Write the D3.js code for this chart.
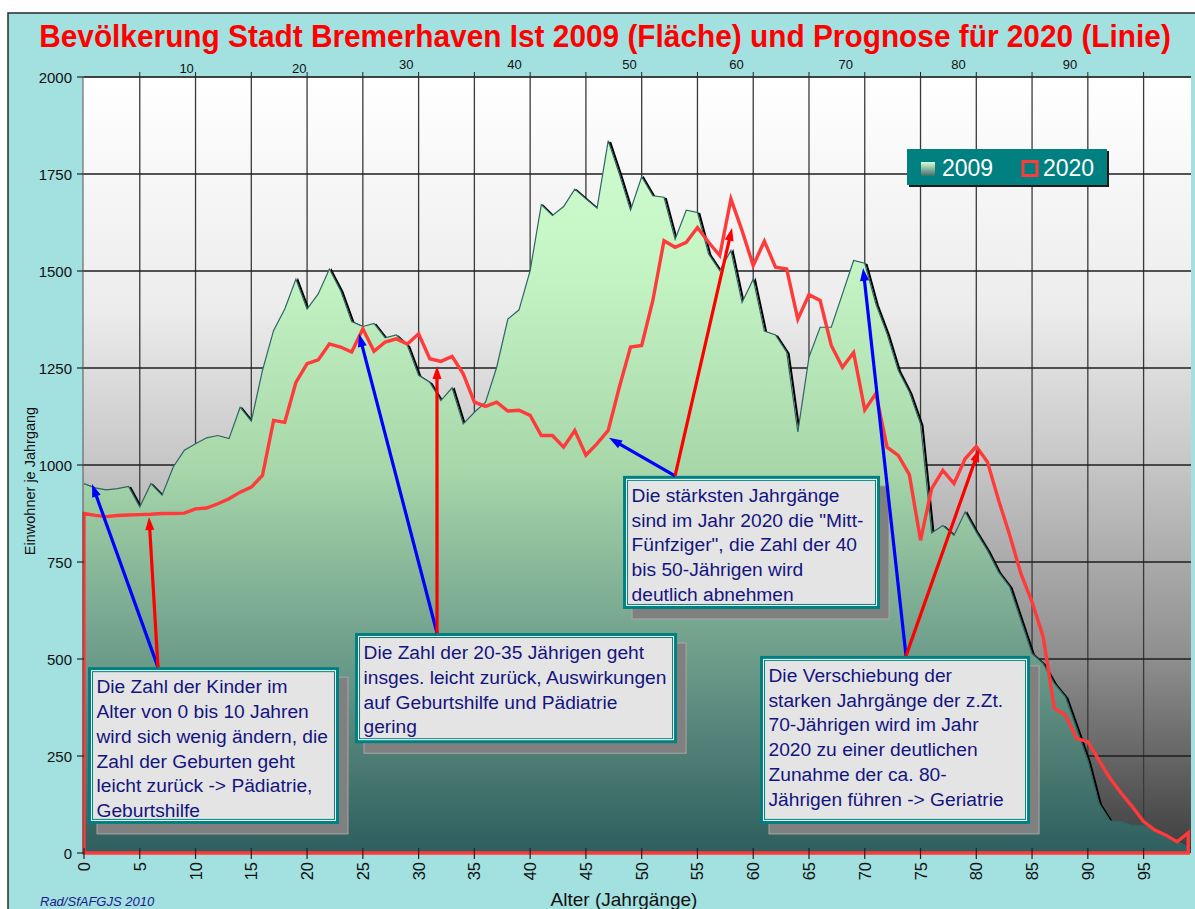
<!DOCTYPE html>
<html><head><meta charset="utf-8">
<script src="https://cdn.jsdelivr.net/npm/d3@7"></script>
<style>html,body{margin:0;padding:0;background:#fff;}svg{display:block;}</style>
</head><body>
<svg id="chart" width="1195" height="909"></svg>
<script>
// ---------- DATA ----------
const ages = d3.range(0, 100);
const pop2009 = [952,941,936,939,945,892,952,922,995,1038,
 1055,1070,1076,1068,1149,1113,1244,1347,1402,1479,
 1402,1441,1505,1450,1370,1357,1365,1328,1335,1308,
 1231,1213,1166,1199,1106,1136,1162,1252,1376,1400,
 1501,1671,1643,1666,1711,1686,1662,1836,1750,1657,
 1743,1694,1690,1582,1657,1651,1544,1501,1553,1419,
 1479,1345,1335,1291,1085,1278,1355,1355,1441,1527,
 1520,1415,1338,1244,1188,1106,825,844,819,879,
 827,780,724,686,600,514,488,437,402,321,
 239,128,83,81,72,72,59,46,33,16];
const pop2020 = [875,870,867,870,871,872,873,875,875,876,
 887,889,900,913,930,943,973,1115,1110,1213,
 1261,1271,1312,1304,1291,1351,1293,1317,1325,1312,
 1338,1274,1267,1280,1235,1162,1151,1162,1139,1141,
 1128,1076,1076,1046,1089,1025,1055,1089,1201,1304,
 1308,1424,1578,1561,1574,1612,1574,1540,1686,1604,
 1514,1577,1510,1505,1376,1439,1424,1308,1252,1290,
 1142,1184,1046,1025,975,806,939,986,952,1016,
 1048,1008,909,819,720,647,557,373,355,295,
 287,239,192,154,119,81,59,46,29,52];
const seriesNames = ["2009", "2020"];
const yTicks = [0,250,500,750,1000,1250,1500,1750,2000];
const xTicks = d3.range(0, 100, 5);
const topTickLabels = [10,20,30,40,50,60,70,80,90];
const topTickAges = [9.2,19.3,28.9,38.6,48.9,58.5,68.3,78.4,88.4];
const topTickLift = [0,0,4,4,4,4,4,4,4];
const titleText = "Bevölkerung Stadt Bremerhaven Ist 2009 (Fläche) und Prognose für 2020 (Linie)";
const xTitle = "Alter (Jahrgänge)";
const yTitle = "Einwohner je Jahrgang";
const credit = "Rad/SfAFGJS 2010";

// annotations in data coordinates (age, value)
const notes = [
 {box:[0.36,479,22.86,75], from:[6.63,479], blue:[0.72,951], red:[5.83,866],
  lines:["Die Zahl der Kinder im","Alter von 0 bis 10 Jahren","wird sich wenig ändern, die","Zahl der Geburten geht","leicht zurück -> Pädiatrie,","Geburtshilfe"]},
 {box:[24.3,567,53.17,283], from:[31.65,567], blue:[24.66,1338], red:[31.65,1255],
  lines:["Die Zahl der 20-35 Jährigen geht","insges. leicht zurück, Auswirkungen","auf Geburtshilfe und Pädiatrie","gering"]},
 {box:[48.33,972,71.37,629], from:[52.99,972], blue:[47.07,1070], red:[58.1,1611],
  lines:["Die stärksten Jahrgänge","sind im Jahr 2020 die \"Mitt-","Fünfziger\", die Zahl der 40","bis 50-Jährigen wird","deutlich abnehmen"]},
 {box:[60.61,508,84.82,75], from:[73.7,508], blue:[69.85,1508], red:[80.25,1041],
  lines:["Die Verschiebung der","starken Jahrgänge der z.Zt.","70-Jährigen wird im Jahr","2020 zu einer deutlichen","Zunahme der ca. 80-","Jährigen führen -> Geriatrie"]}
];

// ---------- LAYOUT ----------
const W = 1195, H = 909;
const x = d3.scaleLinear().domain([0, 99.25]).range([84, 1191]);
const y = d3.scaleLinear().domain([0, 2000]).range([853, 77]);
const FONT = "'Liberation Sans', Arial, sans-serif";

const svg = d3.select("#chart");
const defs = svg.append("defs");

const bg = defs.append("linearGradient").attr("id","bgGrad").attr("x1",0).attr("y1",0).attr("x2",0).attr("y2",1);
[[0,"#ffffff"],[0.3,"#ececec"],[0.5,"#c6c6c6"],[0.75,"#8e8e8e"],[1,"#3e3e3e"]].forEach(s=>bg.append("stop").attr("offset",s[0]).attr("stop-color",s[1]));

const ag = defs.append("linearGradient").attr("id","areaGrad").attr("gradientUnits","userSpaceOnUse")
  .attr("x1",0).attr("y1",y(2000)).attr("x2",0).attr("y2",y(0));
[[0,"#d4ffd4"],[0.25,"#c4f4c4"],[0.5,"#a8d8aa"],[0.75,"#6c9c8a"],[1,"#2e5e5e"]].forEach(s=>ag.append("stop").attr("offset",s[0]).attr("stop-color",s[1]));

const lg = defs.append("linearGradient").attr("id","legGrad").attr("x1",0).attr("y1",0).attr("x2",0).attr("y2",1);
[[0,"#d4ffd4"],[1,"#3e6e6e"]].forEach(s=>lg.append("stop").attr("offset",s[0]).attr("stop-color",s[1]));

// outer frame
svg.append("rect").attr("x",0).attr("y",0).attr("width",W).attr("height",H).attr("fill","#ffffff");
svg.append("rect").attr("x",8).attr("y",13).attr("width",W).attr("height",H).attr("fill","#a3e0e0")
  .attr("stroke","#2a2a2a").attr("stroke-width",1.5);

// title (condensed bold via horizontal scale so its box stays inside)
const title = svg.append("text").attr("text-anchor","middle")
  .attr("font-family",FONT).attr("font-weight","bold").attr("font-size",32)
  .attr("fill","#ff0000").text(titleText);
const tw = title.node().getComputedTextLength();
const sx = Math.min(1, 1132 / tw);
title.attr("transform",`translate(605,47) scale(${sx},1)`);

// plot background
svg.append("rect").attr("x",x(0)-1).attr("y",y(2000)).attr("width",x(99.25)-x(0)+1).attr("height",y(0)-y(2000)).attr("fill","url(#bgGrad)");

// gridlines
svg.append("g").selectAll("line").data(xTicks.filter(d=>d>0)).join("line")
  .attr("x1",d=>x(d)).attr("x2",d=>x(d)).attr("y1",y(2000)).attr("y2",y(0))
  .attr("stroke","#3a3a3a").attr("stroke-width",1.3);
svg.append("g").selectAll("line").data(yTicks.filter(d=>d>0)).join("line")
  .attr("x1",x(0)).attr("x2",x(99.25)).attr("y1",d=>y(d)).attr("y2",d=>y(d))
  .attr("stroke","#1e1e1e").attr("stroke-width",1.4);

// area 2009
const data = ages.map((a,i)=>({a, v09:pop2009[i], v20:pop2020[i]}));
const line09 = d3.line().x(d=>x(d.a)).y(d=>y(d.v09));
svg.append("path").datum(data).attr("d",line09).attr("fill","none").attr("stroke","#000")
  .attr("stroke-width",2).attr("transform","translate(2,1.5)");
const area09 = d3.area().x(d=>x(d.a)).y0(y(0)).y1(d=>y(d.v09));
svg.append("path").datum(data).attr("d",area09).attr("fill","url(#areaGrad)");
svg.append("path").datum(data).attr("d",line09).attr("fill","none").attr("stroke","#2f6464").attr("stroke-width",1.2);

// 2020 outline (area without fill)
const area20 = d3.area().x(d=>x(d.a)).y0(y(0)).y1(d=>y(d.v20));
svg.append("path").datum(data).attr("d",area20).attr("fill","none")
  .attr("stroke","#ff3a3a").attr("stroke-width",3.4).attr("stroke-linejoin","miter");

// axes lines
svg.append("line").attr("x1",x(0)-1).attr("x2",x(0)-1).attr("y1",y(2000)).attr("y2",y(0)).attr("stroke","#555").attr("stroke-width",1);

// y axis
const yAxis = svg.append("g");
yAxis.selectAll("line").data(yTicks).join("line").attr("x1",77).attr("x2",x(0)).attr("y1",d=>y(d)).attr("y2",d=>y(d)).attr("stroke","#222").attr("stroke-width",1.2);
yAxis.selectAll("text").data(yTicks).join("text").attr("x",72).attr("y",d=>y(d)+5.5).attr("text-anchor","end")
  .attr("font-family",FONT).attr("font-size",15).attr("fill","#111").text(d=>d);
svg.append("text").attr("transform","translate(35,481) rotate(-90)").attr("text-anchor","middle")
  .attr("font-family",FONT).attr("font-size",14.5).attr("fill","#111").text(yTitle);

// x axis bottom
const xAxis = svg.append("g");
xAxis.selectAll("line").data(xTicks).join("line").attr("x1",d=>x(d)).attr("x2",d=>x(d)).attr("y1",y(0)-5).attr("y2",y(0)+6).attr("stroke","#222").attr("stroke-width",1.2);
xAxis.selectAll("text").data(xTicks).join("text")
  .attr("transform",d=>`translate(${x(d)+6},${y(0)+9}) rotate(-90)`).attr("text-anchor","end")
  .attr("font-family",FONT).attr("font-size",16.5).attr("fill","#111").text(d=>d);
svg.append("text").attr("x",624).attr("y",906).attr("text-anchor","middle")
  .attr("font-family",FONT).attr("font-size",19).attr("fill","#111").text(xTitle);
svg.append("text").attr("x",40).attr("y",906)
  .attr("font-family",FONT).attr("font-size",13).attr("font-style","italic").attr("fill","#1a1a8a").text(credit);

// top axis
const tAxis = svg.append("g");
tAxis.selectAll("line").data(xTicks.filter(d=>d>0)).join("line").attr("x1",d=>x(d)).attr("x2",d=>x(d)).attr("y1",y(2000)-5).attr("y2",y(2000)).attr("stroke","#222");
tAxis.append("line").attr("x1",x(0)).attr("x2",x(99.25)).attr("y1",y(2000)).attr("y2",y(2000)).attr("stroke","#333");
tAxis.selectAll("text").data(topTickLabels).join("text")
  .attr("x",(d,i)=>x(topTickAges[i])).attr("y",(d,i)=>73-topTickLift[i]).attr("text-anchor","middle")
  .attr("font-family",FONT).attr("font-size",13).attr("fill","#111").text(d=>d);

// annotations
function arrow(g, p0, p1, color){
  const [x0,y0]=[x(p0[0]),y(p0[1])],[x1,y1]=[x(p1[0]),y(p1[1])];
  const dx=x1-x0, dy=y1-y0, L=Math.hypot(dx,dy), ux=dx/L, uy=dy/L;
  const hl=13, hw=4.5;
  g.append("line").attr("x1",x0).attr("y1",y0).attr("x2",x1-ux*hl*0.8).attr("y2",y1-uy*hl*0.8)
    .attr("stroke",color).attr("stroke-width",3.2);
  const bx=x1-ux*hl, by=y1-uy*hl;
  g.append("path").attr("d",`M${x1},${y1}L${bx-uy*hw},${by+ux*hw}L${bx+uy*hw},${by-ux*hw}Z`).attr("fill",color);
}
const ann = svg.append("g");
notes.forEach(n=>{
  const bx0=x(n.box[0]), by0=y(n.box[1]), bx1=x(n.box[2]), by1=y(n.box[3]);
  const w=bx1-bx0, h=by1-by0;
  ann.append("rect").attr("x",bx0+9).attr("y",by0+10).attr("width",w).attr("height",h)
    .attr("fill","#808080").attr("stroke","#a8a8a8").attr("stroke-width",1);
  ann.append("rect").attr("x",bx0).attr("y",by0).attr("width",w).attr("height",h).attr("fill","#008080");
  ann.append("rect").attr("x",bx0+3).attr("y",by0+3).attr("width",w-6).attr("height",h-6).attr("fill","#ffffff");
  ann.append("rect").attr("x",bx0+4.5).attr("y",by0+4.5).attr("width",w-9).attr("height",h-9)
    .attr("fill","#e4e4e4").attr("stroke","#008080").attr("stroke-width",1);
  const t = ann.append("text").attr("font-family",FONT).attr("font-size",19.2).attr("fill","#14147f");
  n.lines.forEach((s,i)=>t.append("tspan").attr("x",bx0+8.5).attr("y",by0+26+i*24.8).text(s));
});
notes.forEach(n=>{ arrow(ann, n.from, n.blue, "#0000ff"); arrow(ann, n.from, n.red, "#ff0000"); });

// legend
const leg = svg.append("g");
leg.append("rect").attr("x",909).attr("y",151).attr("width",200).attr("height",36).attr("fill","#1a1a1a");
leg.append("rect").attr("x",907).attr("y",149).attr("width",200).attr("height",36).attr("fill","#008080");
leg.append("rect").attr("x",921).attr("y",162).attr("width",14).attr("height",14).attr("fill","url(#legGrad)");
leg.append("rect").attr("x",1023).attr("y",161.5).attr("width",14).attr("height",14).attr("fill","#008080").attr("stroke","#ff3a3a").attr("stroke-width",3);
leg.selectAll("text.lt").data(seriesNames).join("text").attr("class","lt")
  .attr("x",(d,i)=>i?1043:942).attr("y",176).attr("font-family",FONT).attr("font-size",23).attr("fill","#ffffff").text(d=>d);
</script>
</body></html>
